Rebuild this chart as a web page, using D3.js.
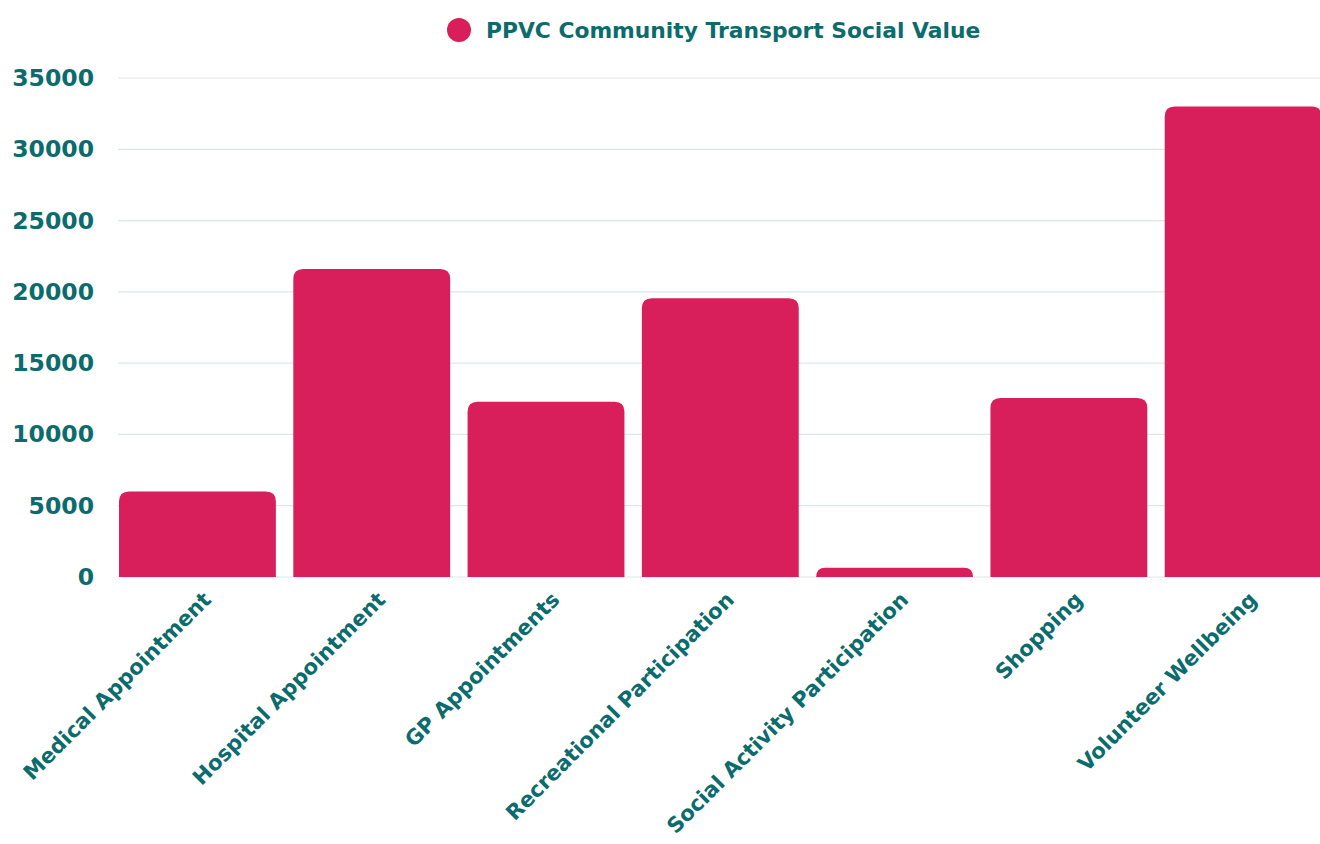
<!DOCTYPE html>
<html><head><meta charset="utf-8">
<script src="https://cdn.jsdelivr.net/npm/d3@7"></script>
<style>
html,body{margin:0;padding:0;background:#fff;}
svg text{font-family:"DejaVu Sans",sans-serif;font-weight:bold;fill:#0b6b6d;}
</style></head>
<body><svg id="c" width="1320" height="844"></svg>
<script>
const categories = ["Medical Appointment","Hospital Appointment","GP Appointments","Recreational Participation","Social Activity Participation","Shopping","Volunteer Wellbeing"];
const values = [6000, 21600, 12300, 19550, 650, 12550, 33000];
const yTicks = [0, 5000, 10000, 15000, 20000, 25000, 30000, 35000];
const seriesName = "PPVC Community Transport Social Value";

const svg = d3.select("#c");
const x = d3.scaleBand().domain(categories).range([110.3, 1330.3]).paddingInner(0.1).paddingOuter(0.05);
const y = d3.scaleLinear().domain([0, 35000]).range([577, 78]);

// grid
svg.append("g").selectAll("line").data(yTicks).join("line")
  .attr("x1", 118).attr("x2", 1320)
  .attr("y1", d => y(d)).attr("y2", d => y(d))
  .attr("stroke", "#dbe8e8").attr("stroke-width", 1.2);

// y labels
svg.append("g").selectAll("text").data(yTicks).join("text")
  .attr("x", 94).attr("y", d => y(d) + 8)
  .attr("text-anchor", "end").attr("font-size", 23.5)
  .text(d => d);

// bars with rounded top
const r = 10;
function barPath(x0, w, yt, yb) {
  const rr = Math.min(r, (yb - yt), w / 2);
  return `M${x0},${yb}V${yt + rr}Q${x0},${yt} ${x0 + rr},${yt}H${x0 + w - rr}Q${x0 + w},${yt} ${x0 + w},${yt + rr}V${yb}Z`;
}
svg.append("g").selectAll("path").data(categories).join("path")
  .attr("d", (c, i) => barPath(x(c), x.bandwidth(), y(values[i]), y(0)))
  .attr("fill", "#d81e5b");

// x labels
svg.append("g").selectAll("text").data(categories).join("text")
  .attr("transform", c => `translate(${x(c) + x.bandwidth() / 2 + 15},${601}) rotate(-45)`)
  .attr("text-anchor", "end").attr("font-size", 21.2)
  .text(c => c);

// legend
svg.append("circle").attr("cx", 459).attr("cy", 30).attr("r", 12).attr("fill", "#d81e5b");
svg.append("text").attr("x", 486).attr("y", 37.5).attr("font-size", 21.8).text(seriesName);
</script></body></html>
